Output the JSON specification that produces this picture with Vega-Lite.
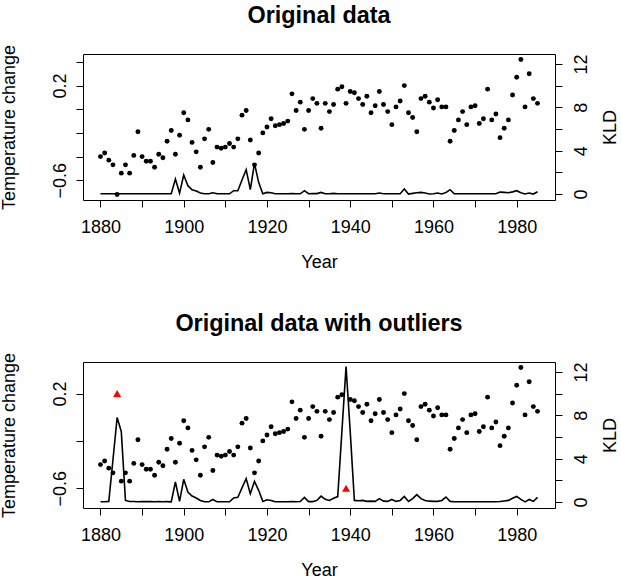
{
  "$schema": "https://vega.github.io/schema/vega-lite/v6.json",
  "padding": {"left": -1, "top": 3, "right": 0, "bottom": 0},
  "config": {
    "font": "Liberation Sans",
    "view": {"stroke": "black", "strokeWidth": 1},
    "axis": {
      "grid": false, "domain": false,
      "tickColor": "black", "tickSize": 7, "tickWidth": 1,
      "labelColor": "black", "labelFontSize": 18, "labelFont": "Liberation Sans",
      "titleColor": "black", "titleFontSize": 18, "titleFont": "Liberation Sans", "titleFontWeight": "normal",
      "labelOverlap": false, "labelBound": false, "labelFlush": false
    },
    "title": {"font": "Liberation Sans", "fontSize": 23.4, "fontWeight": "bold", "color": "black", "anchor": "middle", "baseline": "alphabetic", "offset": 16}
  },
  "datasets": {
    "d": [
      {"year":1880,"temp":-0.40,"temp2":-0.40,"k1":0.02,"k2":0.02},
      {"year":1881,"temp":-0.37,"temp2":-0.37,"k1":0.02,"k2":0.03},
      {"year":1882,"temp":-0.43,"temp2":-0.43,"k1":0.02,"k2":0.06},
      {"year":1883,"temp":-0.47,"temp2":-0.47,"k1":0.02,"k2":3.9},
      {"year":1884,"temp":-0.72,"temp2":null,"k1":0.02,"k2":7.8},
      {"year":1885,"temp":-0.54,"temp2":-0.54,"k1":0.02,"k2":6.5},
      {"year":1886,"temp":-0.47,"temp2":-0.47,"k1":0.02,"k2":0.15},
      {"year":1887,"temp":-0.54,"temp2":-0.54,"k1":0.02,"k2":0.05},
      {"year":1888,"temp":-0.39,"temp2":-0.39,"k1":0.02,"k2":0.05},
      {"year":1889,"temp":-0.19,"temp2":-0.19,"k1":0.02,"k2":0.02},
      {"year":1890,"temp":-0.40,"temp2":-0.40,"k1":0.02,"k2":0.05},
      {"year":1891,"temp":-0.44,"temp2":-0.44,"k1":0.02,"k2":0.04},
      {"year":1892,"temp":-0.44,"temp2":-0.44,"k1":0.02,"k2":0.04},
      {"year":1893,"temp":-0.49,"temp2":-0.49,"k1":0.02,"k2":0.02},
      {"year":1894,"temp":-0.38,"temp2":-0.38,"k1":0.02,"k2":0.04},
      {"year":1895,"temp":-0.41,"temp2":-0.41,"k1":0.02,"k2":0.03},
      {"year":1896,"temp":-0.27,"temp2":-0.27,"k1":0.02,"k2":0.04},
      {"year":1897,"temp":-0.18,"temp2":-0.18,"k1":0.03,"k2":0.02},
      {"year":1898,"temp":-0.38,"temp2":-0.38,"k1":1.38,"k2":1.85},
      {"year":1899,"temp":-0.22,"temp2":-0.22,"k1":0.09,"k2":0.06},
      {"year":1900,"temp":-0.03,"temp2":-0.03,"k1":1.75,"k2":2.10},
      {"year":1901,"temp":-0.09,"temp2":-0.09,"k1":0.77,"k2":0.92},
      {"year":1902,"temp":-0.28,"temp2":-0.28,"k1":0.40,"k2":0.55},
      {"year":1903,"temp":-0.36,"temp2":-0.36,"k1":0.28,"k2":0.37},
      {"year":1904,"temp":-0.49,"temp2":-0.49,"k1":0.09,"k2":0.15},
      {"year":1905,"temp":-0.25,"temp2":-0.25,"k1":0.02,"k2":0.02},
      {"year":1906,"temp":-0.17,"temp2":-0.17,"k1":0.02,"k2":0.02},
      {"year":1907,"temp":-0.45,"temp2":-0.45,"k1":0.12,"k2":0.24},
      {"year":1908,"temp":-0.32,"temp2":-0.32,"k1":0.02,"k2":0.02},
      {"year":1909,"temp":-0.33,"temp2":-0.33,"k1":0.02,"k2":0.02},
      {"year":1910,"temp":-0.32,"temp2":-0.32,"k1":0.02,"k2":0.02},
      {"year":1911,"temp":-0.29,"temp2":-0.29,"k1":0.02,"k2":0.02},
      {"year":1912,"temp":-0.32,"temp2":-0.32,"k1":0.31,"k2":0.37},
      {"year":1913,"temp":-0.25,"temp2":-0.25,"k1":0.31,"k2":0.43},
      {"year":1914,"temp":-0.05,"temp2":-0.05,"k1":1.29,"k2":1.30},
      {"year":1915,"temp":-0.01,"temp2":-0.01,"k1":2.25,"k2":2.16},
      {"year":1916,"temp":-0.26,"temp2":-0.26,"k1":0.40,"k2":0.77},
      {"year":1917,"temp":-0.47,"temp2":-0.47,"k1":2.83,"k2":1.91},
      {"year":1918,"temp":-0.37,"temp2":-0.37,"k1":1.08,"k2":1.08},
      {"year":1919,"temp":-0.20,"temp2":-0.20,"k1":0.02,"k2":0.06},
      {"year":1920,"temp":-0.15,"temp2":-0.15,"k1":0.15,"k2":0.21},
      {"year":1921,"temp":-0.08,"temp2":-0.08,"k1":0.12,"k2":0.15},
      {"year":1922,"temp":-0.14,"temp2":-0.14,"k1":0.02,"k2":0.02},
      {"year":1923,"temp":-0.13,"temp2":-0.13,"k1":0.02,"k2":0.02},
      {"year":1924,"temp":-0.12,"temp2":-0.12,"k1":0.02,"k2":0.03},
      {"year":1925,"temp":-0.10,"temp2":-0.10,"k1":0.02,"k2":0.03},
      {"year":1926,"temp":0.13,"temp2":0.13,"k1":0.05,"k2":0.05},
      {"year":1927,"temp":-0.01,"temp2":-0.01,"k1":0.02,"k2":0.03},
      {"year":1928,"temp":0.06,"temp2":0.06,"k1":0.02,"k2":0.05},
      {"year":1929,"temp":-0.17,"temp2":-0.17,"k1":0.31,"k2":0.43},
      {"year":1930,"temp":-0.01,"temp2":-0.01,"k1":0.03,"k2":0.04},
      {"year":1931,"temp":0.09,"temp2":0.09,"k1":0.05,"k2":0.04},
      {"year":1932,"temp":0.05,"temp2":0.05,"k1":0.04,"k2":0.15},
      {"year":1933,"temp":-0.16,"temp2":-0.16,"k1":0.15,"k2":0.55},
      {"year":1934,"temp":0.05,"temp2":0.05,"k1":0.02,"k2":0.25},
      {"year":1935,"temp":-0.02,"temp2":-0.02,"k1":0.02,"k2":0.15},
      {"year":1936,"temp":0.04,"temp2":0.04,"k1":0.06,"k2":0.35},
      {"year":1937,"temp":0.17,"temp2":0.17,"k1":0.02,"k2":0.5},
      {"year":1938,"temp":0.19,"temp2":0.19,"k1":0.02,"k2":6.5},
      {"year":1939,"temp":0.05,"temp2":null,"k1":0.02,"k2":12.5},
      {"year":1940,"temp":0.15,"temp2":0.15,"k1":0.02,"k2":6.5},
      {"year":1941,"temp":0.14,"temp2":0.14,"k1":0.02,"k2":0.15},
      {"year":1942,"temp":0.09,"temp2":0.09,"k1":0.02,"k2":0.12},
      {"year":1943,"temp":0.04,"temp2":0.04,"k1":0.02,"k2":0.15},
      {"year":1944,"temp":0.11,"temp2":0.11,"k1":0.02,"k2":0.06},
      {"year":1945,"temp":-0.03,"temp2":-0.03,"k1":0.02,"k2":0.08},
      {"year":1946,"temp":0.03,"temp2":0.03,"k1":0.02,"k2":0.06},
      {"year":1947,"temp":0.15,"temp2":0.15,"k1":0.09,"k2":0.31},
      {"year":1948,"temp":0.04,"temp2":0.04,"k1":0.02,"k2":0.08},
      {"year":1949,"temp":-0.02,"temp2":-0.02,"k1":0.02,"k2":0.06},
      {"year":1950,"temp":-0.13,"temp2":-0.13,"k1":0.02,"k2":0.24},
      {"year":1951,"temp":0.02,"temp2":0.02,"k1":0.03,"k2":0.06},
      {"year":1952,"temp":0.07,"temp2":0.07,"k1":0.03,"k2":0.15},
      {"year":1953,"temp":0.20,"temp2":0.20,"k1":0.46,"k2":0.52},
      {"year":1954,"temp":-0.03,"temp2":-0.03,"k1":0.00,"k2":0.06},
      {"year":1955,"temp":-0.07,"temp2":-0.07,"k1":0.06,"k2":0.31},
      {"year":1956,"temp":-0.19,"temp2":-0.19,"k1":0.12,"k2":0.68},
      {"year":1957,"temp":0.09,"temp2":0.09,"k1":0.15,"k2":0.31},
      {"year":1958,"temp":0.11,"temp2":0.11,"k1":0.09,"k2":0.15},
      {"year":1959,"temp":0.06,"temp2":0.06,"k1":0.00,"k2":0.08},
      {"year":1960,"temp":0.01,"temp2":0.01,"k1":0.03,"k2":0.06},
      {"year":1961,"temp":0.08,"temp2":0.08,"k1":0.09,"k2":0.06},
      {"year":1962,"temp":0.02,"temp2":0.02,"k1":0.00,"k2":0.15},
      {"year":1963,"temp":0.02,"temp2":0.02,"k1":0.15,"k2":0.46},
      {"year":1964,"temp":-0.27,"temp2":-0.27,"k1":0.40,"k2":0.06},
      {"year":1965,"temp":-0.18,"temp2":-0.18,"k1":0.03,"k2":0.02},
      {"year":1966,"temp":-0.09,"temp2":-0.09,"k1":0.02,"k2":0.02},
      {"year":1967,"temp":-0.02,"temp2":-0.02,"k1":0.02,"k2":0.02},
      {"year":1968,"temp":-0.13,"temp2":-0.13,"k1":0.02,"k2":0.02},
      {"year":1969,"temp":0.02,"temp2":0.02,"k1":0.02,"k2":0.02},
      {"year":1970,"temp":0.03,"temp2":0.03,"k1":0.02,"k2":0.02},
      {"year":1971,"temp":-0.12,"temp2":-0.12,"k1":0.02,"k2":0.02},
      {"year":1972,"temp":-0.08,"temp2":-0.08,"k1":0.02,"k2":0.02},
      {"year":1973,"temp":0.17,"temp2":0.17,"k1":0.02,"k2":0.02},
      {"year":1974,"temp":-0.09,"temp2":-0.09,"k1":0.02,"k2":0.02},
      {"year":1975,"temp":-0.04,"temp2":-0.04,"k1":0.02,"k2":0.02},
      {"year":1976,"temp":-0.24,"temp2":-0.24,"k1":0.18,"k2":0.05},
      {"year":1977,"temp":-0.16,"temp2":-0.16,"k1":0.15,"k2":0.10},
      {"year":1978,"temp":-0.09,"temp2":-0.09,"k1":0.12,"k2":0.15},
      {"year":1979,"temp":0.12,"temp2":0.12,"k1":0.20,"k2":0.35},
      {"year":1980,"temp":0.27,"temp2":0.27,"k1":0.31,"k2":0.52},
      {"year":1981,"temp":0.42,"temp2":0.42,"k1":0.12,"k2":0.24},
      {"year":1982,"temp":0.02,"temp2":0.02,"k1":0.00,"k2":0.02},
      {"year":1983,"temp":0.30,"temp2":0.30,"k1":0.09,"k2":0.24},
      {"year":1984,"temp":0.09,"temp2":0.09,"k1":0.00,"k2":0.06},
      {"year":1985,"temp":0.05,"temp2":0.05,"k1":0.21,"k2":0.43}
    ],
    "outliers": [
      {"year":1884,"temp":0.2},
      {"year":1939,"temp":-0.6}
    ]
  },
  "spacing": 39,
  "vconcat": [
    {
      "width": 472, "height": 146,
      "title": {"text": "Original data"},
      "layer": [
        {
          "data": {"name": "d"},
          "mark": {"type": "circle", "size": 24, "color": "black", "opacity": 1},
          "encoding": {
            "x": {"field": "year", "type": "quantitative", "scale": {"domain": [1875.8, 1989.2], "nice": false, "zero": false},
                  "axis": {"title": "Year", "values": [1880,1890,1900,1910,1920,1930,1940,1950,1960,1970,1980], "format": "d",
                           "labelExpr": "datum.value % 20 == 0 ? datum.label : ''", "labelBaseline": "alphabetic", "labelPadding": 25,
                           "titleX": 236, "titleY": 67, "titleBaseline": "alphabetic", "titleAlign": "center"}},
            "y": {"field": "temp", "type": "quantitative", "scale": {"domain": [-0.767, 0.467], "nice": false, "zero": false},
                  "axis": {"title": "Temperature change", "orient": "left", "values": [-0.6,-0.4,-0.2,0,0.2,0.4], "format": ".1f",
                           "labelExpr": "abs(datum.value + 0.6) < 0.01 || abs(datum.value - 0.2) < 0.01 ? datum.label : ''",
                           "labelAngle": -90, "labelAlign": "center", "labelBaseline": "alphabetic", "labelPadding": 11,
                           "titleAngle": -90, "titleX": -69, "titleY": 73, "titleAlign": "center", "titleBaseline": "alphabetic"}}
          }
        },
        {
          "data": {"name": "d"},
          "mark": {"type": "line", "color": "black", "strokeWidth": 1.6},
          "encoding": {
            "x": {"field": "year", "type": "quantitative", "scale": {"domain": [1875.8, 1989.2], "nice": false, "zero": false}},
            "y": {"field": "k1", "type": "quantitative", "scale": {"domain": [-0.55, 12.92], "nice": false, "zero": false},
                  "axis": {"title": "KLD", "orient": "right", "values": [0,2,4,6,8,10,12], "format": "d",
                           "labelExpr": "datum.value % 4 == 0 ? datum.label : ''",
                           "labelAngle": -90, "labelAlign": "center", "labelBaseline": "alphabetic", "labelPadding": 24,
                           "titleAngle": -90, "titleX": 60, "titleY": 73, "titleAlign": "center", "titleBaseline": "alphabetic"}}
          }
        }
      ],
      "resolve": {"scale": {"y": "independent"}}
    },
    {
      "width": 472, "height": 146,
      "title": {"text": "Original data with outliers"},
      "layer": [
        {
          "layer": [
            {
              "data": {"name": "d"},
              "mark": {"type": "circle", "size": 24, "color": "black", "opacity": 1},
              "encoding": {
                "x": {"field": "year", "type": "quantitative", "scale": {"domain": [1875.8, 1989.2], "nice": false, "zero": false},
                      "axis": {"title": "Year", "values": [1880,1890,1900,1910,1920,1930,1940,1950,1960,1970,1980], "format": "d",
                               "labelExpr": "datum.value % 20 == 0 ? datum.label : ''", "labelBaseline": "alphabetic", "labelPadding": 25,
                               "titleX": 236, "titleY": 67, "titleBaseline": "alphabetic", "titleAlign": "center"}},
                "y": {"field": "temp2", "type": "quantitative", "scale": {"domain": [-0.767, 0.467], "nice": false, "zero": false},
                      "axis": {"title": "Temperature change", "orient": "left", "values": [-0.6,-0.4,-0.2,0,0.2,0.4], "format": ".1f",
                               "labelExpr": "abs(datum.value + 0.6) < 0.01 || abs(datum.value - 0.2) < 0.01 ? datum.label : ''",
                               "labelAngle": -90, "labelAlign": "center", "labelBaseline": "alphabetic", "labelPadding": 11,
                               "titleAngle": -90, "titleX": -69, "titleY": 73, "titleAlign": "center", "titleBaseline": "alphabetic"}}
              }
            },
            {
              "data": {"name": "outliers"},
              "mark": {"type": "point", "shape": "triangle-up", "size": 65, "filled": true, "color": "#ff0000", "opacity": 1},
              "encoding": {
                "x": {"field": "year", "type": "quantitative"},
                "y": {"field": "temp", "type": "quantitative"}
              }
            }
          ]
        },
        {
          "data": {"name": "d"},
          "mark": {"type": "line", "color": "black", "strokeWidth": 1.6},
          "encoding": {
            "x": {"field": "year", "type": "quantitative", "scale": {"domain": [1875.8, 1989.2], "nice": false, "zero": false}},
            "y": {"field": "k2", "type": "quantitative", "scale": {"domain": [-0.55, 12.92], "nice": false, "zero": false},
                  "axis": {"title": "KLD", "orient": "right", "values": [0,2,4,6,8,10,12], "format": "d",
                           "labelExpr": "datum.value % 4 == 0 ? datum.label : ''",
                           "labelAngle": -90, "labelAlign": "center", "labelBaseline": "alphabetic", "labelPadding": 24,
                           "titleAngle": -90, "titleX": 60, "titleY": 73, "titleAlign": "center", "titleBaseline": "alphabetic"}}
          }
        }
      ],
      "resolve": {"scale": {"y": "independent"}}
    }
  ]
}
